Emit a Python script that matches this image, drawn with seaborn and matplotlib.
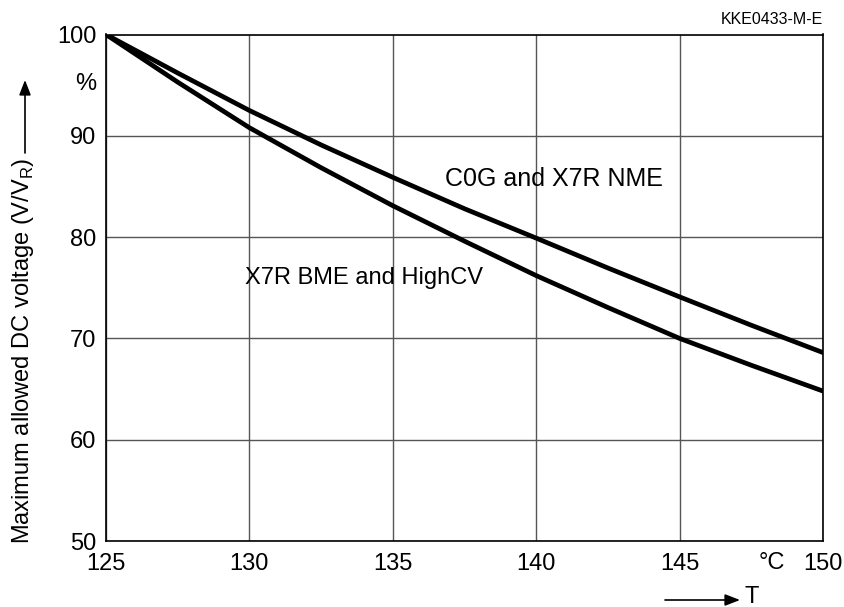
import matplotlib
matplotlib.use("Agg")
import matplotlib.pyplot as plt
import seaborn as sns
import pandas as pd

# Temperature (°C) and voltage derating (% of rated voltage)
temperature = [125, 127.5, 130, 132.5, 135, 137.5, 140, 142.5, 145, 147.5, 150]
c0g_x7r_nme = [100, 96.2, 92.5, 89.1, 85.9, 82.8, 79.9, 76.95, 74.1, 71.3, 68.6]
x7r_bme_highcv = [100, 95.3, 90.8, 86.85, 83.1, 79.6, 76.2, 73.05, 70.0, 67.35, 64.8]

x_ticks = [125, 130, 135, 140, 145, 150]
y_ticks = [50, 60, 70, 80, 90, 100]

sns.set_theme(style="white")
plt.rcParams["font.family"] = ["Liberation Sans", "DejaVu Sans"]
plt.rcParams["text.color"] = "black"

df = pd.DataFrame({
    "T": temperature * 2,
    "V": c0g_x7r_nme + x7r_bme_highcv,
    "series": ["C0G and X7R NME"] * len(temperature) + ["X7R BME and HighCV"] * len(temperature),
})

fig = plt.figure(figsize=(8.45, 6.07), dpi=100)
ax = fig.add_axes([106 / 845, 1 - 541 / 607, (823 - 106) / 845, (541 - 34.5) / 607])

sns.lineplot(data=df, x="T", y="V", units="series", estimator=None,
             color="black", linewidth=3.4, ax=ax, legend=False, zorder=3)

ax.set_xlim(125, 150)
ax.set_ylim(50, 100)
ax.set_xticks(x_ticks)
ax.set_yticks(y_ticks)
ax.set_xticklabels([str(t) for t in x_ticks])
ax.set_yticklabels([str(t) for t in y_ticks])
ax.tick_params(axis="y", length=0, labelsize=17, pad=7, colors="black")
ax.tick_params(axis="x", length=0, labelsize=17, pad=9, colors="black")
ax.grid(True, color="#555555", linewidth=1.0)
ax.set_axisbelow(True)
for s in ax.spines.values():
    s.set_color("black")
    s.set_linewidth(1.2)
ax.set_xlabel("")
ax.set_ylabel("")

# Curve annotations
ax.text(136.82, 85.7, "C0G and X7R NME", fontsize=18, va="center", ha="left", color="black")
ax.text(129.85, 76.0, "X7R BME and HighCV", fontsize=17, va="center", ha="left", color="black")

# Units and drawing number
fig.text(86 / 845, 1 - 84 / 607, "%", fontsize=17, ha="center", va="center")
fig.text(772 / 845, 1 - 563 / 607, "°C", fontsize=17, ha="center", va="center")
fig.text(823 / 845, 1 - 20 / 607, "KKE0433-M-E", fontsize=11.5, ha="right", va="center")

# Y axis title with arrow
fig.text(23 / 845, 1 - 351 / 607, "Maximum allowed DC voltage (V/V$_\\mathregular{R}$)",
         fontsize=17, rotation=90, ha="center", va="center")
fig.add_artist(matplotlib.patches.FancyArrowPatch(
    (25 / 845, 1 - 153 / 607), (25 / 845, 1 - 80 / 607), transform=fig.transFigure,
    arrowstyle="-|>,head_length=9,head_width=3.5", color="black", linewidth=1.2,
    shrinkA=0, shrinkB=0))

# X axis title with arrow
fig.add_artist(matplotlib.patches.FancyArrowPatch(
    (665 / 845, 1 - 600 / 607), (740 / 845, 1 - 600 / 607), transform=fig.transFigure,
    arrowstyle="-|>,head_length=9,head_width=3.5", color="black", linewidth=1.2,
    shrinkA=0, shrinkB=0))
fig.text(752 / 845, 1 - 597 / 607, "T", fontsize=17, ha="center", va="center")

fig.savefig("out.png", dpi=100)
